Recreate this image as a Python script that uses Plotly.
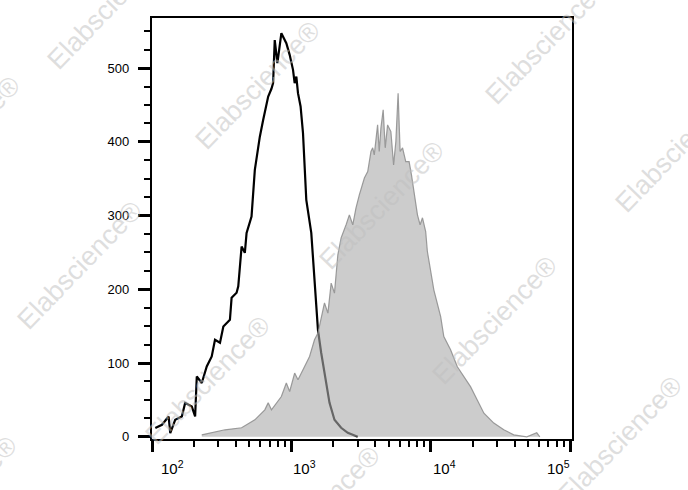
import math
import plotly.graph_objects as go

# ---- data (fluorescence intensity, event count) ----
BLACK_X = [105.6, 117.9, 131.6, 135.2, 146.7, 163.8, 172.9, 193.1, 203.9, 209.6,
           227.6, 247.1, 268.3, 283.2, 307.5, 325.1, 362.4, 372.5, 404.7, 416,
           439.5, 463.7, 477.2, 517.9, 546.9, 594, 628, 682, 719.7, 739.6,
           760, 794.3, 848, 920.4, 972.7, 1028, 1056, 1086, 1116, 1165,
           1212, 1245, 1280, 1390, 1466, 1552, 1637, 1729, 1879, 2039,
           2276, 2541, 2993]
BLACK_Y = [11.8, 16.3, 27.5, 5, 23, 27.5, 46, 41, 27.5, 81.8,
           73, 95.3, 109, 131.5, 127.5, 149.6, 158.7, 188.5, 195.3, 204,
           258, 249.5, 276.6, 298.8, 362, 407, 430, 461.5, 472, 479.6,
           538, 506.7, 547.4, 533.9, 518, 497.7, 479.6, 488.6, 466, 448,
           412, 366.5, 321.4, 276.6, 213, 145, 114, 86.8, 46, 23,
           12.2, 5.4, 0]

GRAY_X = [227.6, 268.3, 334, 439.5, 546.9, 645, 682, 719.7, 848, 920.4,
          972.7, 1056, 1116, 1245, 1351, 1466, 1552, 1729, 1829, 1931,
          2039, 2156, 2276, 2471, 2608, 2759, 2911, 3075, 3342, 3532,
          3727, 3835, 3936, 4159, 4273, 4394, 4560, 4716, 4906, 5179,
          5416, 5623, 5835, 6035, 6280, 6623, 6998, 7278, 7603, 8035,
          8395, 8730, 9204, 9465, 10540, 11790, 12420, 13890, 15530, 17350,
          19310, 21580, 24090, 28380, 33470, 39430, 48940, 57700, 60700]
GRAY_Y = [2.7, 5.4, 9.5, 12.2, 23, 36.6, 46, 36.6, 54.6, 73,
          61.4, 86.4, 77.3, 95.3, 108.9, 131.5, 140.6, 181.7, 167.7, 208.4,
          194.9, 246.8, 269.8, 287.5, 301, 287.5, 310.5, 328, 351, 359.7,
          386.9, 391.9, 382.4, 423, 386.9, 419, 443.4, 391.9, 423, 414,
          368.8, 400.4, 466, 386.9, 391.9, 373.3, 373.3, 355.3, 332.6, 301,
          287.5, 297, 278.4, 251.3, 199, 163, 136, 118, 95, 82,
          68, 50, 32, 18.6, 9.5, 2.7, 0, 5.4, 0]

X_TICK_VALS = [100, 1000, 10000, 100000]
X_TICK_EXP = ["2", "3", "4", "5"]
Y_TICK_VALS = [0, 100, 200, 300, 400, 500]
WATERMARK = "Elabscience®"

FONT = "Liberation Sans, Arial, Helvetica, sans-serif"

fig = go.Figure()

fig.add_trace(go.Scatter(
    x=BLACK_X, y=BLACK_Y, mode="lines",
    line=dict(color="black", width=2.2),
    hoverinfo="skip", showlegend=False,
))
fig.add_trace(go.Scatter(
    x=GRAY_X, y=GRAY_Y, mode="lines", fill="tozeroy",
    fillcolor="rgba(170,170,170,0.6)",
    line=dict(color="rgba(140,140,140,0.85)", width=1.2),
    hoverinfo="skip", showlegend=False,
))

# minor tick positions for the log axis
minor_x = [m * 10 ** d for d in range(2, 5) for m in range(2, 10)]

fig.update_xaxes(
    type="log", range=[2.0, 5.014], automargin=False,
    showgrid=False, zeroline=False,
    showline=True, linecolor="black", linewidth=2.2, mirror=True,
    ticks="outside", tickvals=X_TICK_VALS, ticklen=11, tickwidth=3, tickcolor="black",
    showticklabels=False,
    minor=dict(tickvals=minor_x, ticks="outside", ticklen=6, tickwidth=1.5, tickcolor="black"),
)
fig.update_yaxes(
    range=[-3, 568], automargin=False,
    showgrid=False, zeroline=False,
    showline=True, linecolor="black", linewidth=2.2, mirror=True,
    ticks="outside", tickvals=Y_TICK_VALS, ticklen=12, tickwidth=3, tickcolor="black",
    ticklabelstandoff=6,
    tickfont=dict(family=FONT, size=13, color="black"),
    minor=dict(dtick=25, ticks="outside", ticklen=6, tickwidth=1.5, tickcolor="black"),
)

annotations = []
# x tick labels (left-aligned at tick, first nudged right, last right-aligned)
for i, (v, e) in enumerate(zip(X_TICK_VALS, X_TICK_EXP)):
    last = i == len(X_TICK_VALS) - 1
    first = i == 0
    annotations.append(dict(
        x=math.log10(v), xref="x", y=0, yref="paper",
        text="10<sup>%s</sup>" % e, showarrow=False,
        xanchor="right" if last else "left", yanchor="top",
        yshift=-17, xshift=2 if last else (7 if first else 0),
        font=dict(family=FONT, size=15, color="black"),
    ))

# watermark centers (pixel positions in the 688x490 figure)
wm_centers = [(110, 5), (-42, 140), (258, 85), (548, 40), (382, 205), (678, 148),
              (80, 265), (495, 320), (208, 380), (620, 440), (318, 510), (-45, 500)]
L, R, T, B = 152, 116, 18, 51
W, H = 688, 490
pw, ph = W - L - R, H - T - B
for cx, cy in wm_centers:
    annotations.append(dict(
        x=(cx - L) / pw, y=(H - B - cy) / ph, xref="paper", yref="paper",
        text=WATERMARK, showarrow=False, textangle=-46,
        xanchor="center", yanchor="middle",
        font=dict(family=FONT, size=27, color="rgba(190,190,190,0.5)"),
    ))

fig.update_layout(
    width=W, height=H,
    margin=dict(l=L, r=R, t=T, b=B, autoexpand=False),
    paper_bgcolor="white", plot_bgcolor="white",
    annotations=annotations,
    showlegend=False,
)

fig.write_html(
    "out.html",
    config={"displayModeBar": False},
    post_script="document.body.style.margin='0';document.body.style.overflow='hidden';",
)
